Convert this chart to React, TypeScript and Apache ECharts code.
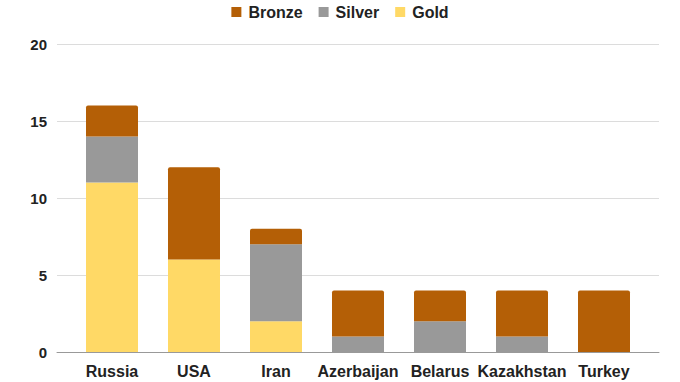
import React, { useEffect, useRef } from "react";
import * as echarts from "echarts";

const categories = ["Russia", "USA", "Iran", "Azerbaijan", "Belarus", "Kazakhstan", "Turkey"];
const gold = [11, 6, 2, 0, 0, 0, 0];
const silver = [3, 0, 5, 1, 2, 1, 0];
const bronze = [2, 6, 1, 3, 2, 3, 4];
const yTicks = { min: 0, max: 20, interval: 5 };

const FONT = "'Liberation Sans', Arial, sans-serif";

export default function App() {
  const ref = useRef<HTMLDivElement>(null);
  useEffect(() => {
    const chart = echarts.init(ref.current!, undefined, { renderer: "svg" });
    chart.setOption({
      animation: false,
      legend: {
        top: -1,
        left: "center",
        itemWidth: 10,
        itemHeight: 10,
        itemGap: 16,
        icon: "rect",
        data: ["Bronze", "Silver", "Gold"],
        textStyle: { fontFamily: FONT, fontWeight: "bold", fontSize: 16, color: "#222", padding: [0, 0, 0, 2] },
      },
      grid: [
        { left: 71, right: 35, top: 44, bottom: 30, containLabel: false },
        { left: 57, right: 21, top: 44, bottom: 30, containLabel: false },
      ],
      xAxis: [
        {
          type: "category",
          gridIndex: 0,
          data: categories,
          axisLine: { show: false },
          axisTick: { show: false },
          axisLabel: { fontFamily: FONT, fontWeight: "bold", fontSize: 16, color: "#222", margin: 11, interval: 0 },
        },
        {
          type: "value",
          gridIndex: 1,
          min: 0,
          max: 1,
          axisLine: { show: true, onZero: false, lineStyle: { color: "#999", width: 1 } },
          axisTick: { show: false },
          axisLabel: { show: false },
          splitLine: { show: false },
        },
      ],
      yAxis: [
        {
          type: "value",
          gridIndex: 0,
          min: yTicks.min,
          max: yTicks.max,
          interval: yTicks.interval,
          axisLine: { show: false },
          axisTick: { show: false },
          axisLabel: { show: false },
          splitLine: { show: false },
        },
        {
          type: "value",
          gridIndex: 1,
          min: yTicks.min,
          max: yTicks.max,
          interval: yTicks.interval,
          axisLine: { show: false },
          axisTick: { show: false },
          axisLabel: { fontFamily: FONT, fontWeight: "bold", fontSize: 15, color: "#222", margin: 10 },
          splitLine: { lineStyle: { color: "#dcdcdc", width: 1 } },
        },
      ],
      series: [
        {
          name: "Gold",
          type: "bar",
          stack: "m",
          data: gold,
          barWidth: 52,
          itemStyle: { color: "#FFD966" },
          z: 3,
        },
        {
          name: "Silver",
          type: "bar",
          stack: "m",
          data: silver,
          barWidth: 52,
          itemStyle: { color: "#999999" },
          z: 3,
        },
        {
          name: "Bronze",
          type: "bar",
          stack: "m",
          data: bronze,
          barWidth: 52,
          itemStyle: { color: "#B45F06", borderRadius: [2, 2, 0, 0] },
          z: 3,
        },
      ],
    });
    return () => chart.dispose();
  }, []);
  return <div ref={ref} style={{ position: "absolute", left: 0, top: 0, width: 680, height: 382 }} />;
}
